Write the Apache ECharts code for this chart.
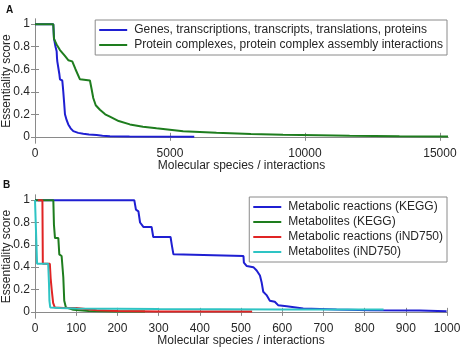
<!DOCTYPE html>
<html>
<head>
<meta charset="utf-8">
<script src="https://cdn.jsdelivr.net/npm/echarts@6/dist/echarts.min.js"></script>
<style>
html,body{margin:0;padding:0;background:#fff;}
#chart{width:461px;height:350px;}
</style>
</head>
<body>
<div id="chart"></div>
<script>
// ---- Panel A data ----
const genesSeriesName = 'Genes, transcriptions, transcripts, translations, proteins';
const complexSeriesName = 'Protein complexes, protein complex assembly interactions';
const genes = [[0,1],[678,1],[703,0.875],[760,0.80],[802,0.76],[815,0.70],[826,0.67],[860,0.66],[900,0.56],[925,0.51],[1011,0.5],[1030,0.45],[1048,0.4],[1080,0.3],[1110,0.2],[1170,0.15],[1233,0.11],[1320,0.075],[1418,0.05],[1600,0.035],[1788,0.027],[2000,0.02],[2282,0.015],[2500,0.01],[2775,0.005],[3500,0.002],[5900,0.0]];
const complexes = [[0,1],[678,1],[703,0.87],[800,0.82],[925,0.77],[1100,0.72],[1233,0.68],[1380,0.67],[1500,0.6],[1665,0.51],[2035,0.5],[2100,0.42],[2158,0.345],[2250,0.28],[2405,0.24],[2600,0.2],[2775,0.18],[3100,0.14],[3515,0.11],[4000,0.09],[4500,0.075],[5488,0.05],[6722,0.035],[8000,0.025],[9188,0.018],[10500,0.013],[11655,0.009],[13500,0.005],[15300,0.003]];
const xTicksA = [0,5000,10000,15000];

// ---- Panel B data ----
const keggReactionsName = 'Metabolic reactions (KEGG)';
const keggMetabolitesName = 'Metabolites (KEGG)';
const indReactionsName = 'Metabolic reactions (iND750)';
const indMetabolitesName = 'Metabolites (iND750)';
const keggReactions = [[0,1],[241,1],[245,0.915],[251,0.9],[255,0.80],[263,0.76],[283,0.76],[287,0.67],[329,0.67],[332,0.60],[336,0.515],[340,0.5],[506,0.5],[507,0.44],[514,0.41],[530,0.40],[538,0.37],[546,0.325],[550,0.266],[554,0.18],[562,0.15],[570,0.10],[582,0.09],[590,0.06],[611,0.05],[651,0.03],[732,0.02],[813,0.015],[934,0.013],[999,0.005]];
const keggMetabolites = [[0,1],[44.5,1],[46,0.78],[48.5,0.66],[56.6,0.66],[59,0.515],[64.6,0.5],[68.7,0.31],[71,0.10],[75,0.04],[93,0.018],[130,0.008],[200,0.004],[267,0.003]];
const indReactions = [[7,1],[18,1],[19,0.43],[36,0.43],[38,0.3],[40.5,0.2],[44,0.08],[48,0.04],[70,0.035],[100,0.035],[150,0.015],[200,0.008],[300,0.004],[527,0.003]];
const indMetabolites = [[0,1],[4,1],[5,0.43],[32,0.43],[34,0.25],[35,0.1],[37,0.04],[60,0.035],[100,0.03],[300,0.025],[600,0.022],[846,0.02]];
const xTicksB = [0,100,200,300,400,500,600,700,800,900,1000];
const yTicks = [0,0.2,0.4,0.6,0.8,1];

const C_BLUE = '#1f1fd2', C_GREEN = '#1e7d1e', C_RED = '#e02424', C_CYAN = '#2ec4c4';
const FRAME = '#8a8a8a';
const FONT = 'Liberation Sans, Arial, sans-serif';
const TXT = '#262626';

const chart = echarts.init(document.getElementById('chart'), null, {renderer:'canvas'});

function xAxes(gridIndex, max, ticks) {
  const line = {show:true, lineStyle:{color:FRAME, width:1}};
  return [
    {type:'value', gridIndex, min:0, max, position:'bottom',
     axisLine:line, splitLine:{show:false},
     axisTick:{show:true, inside:true, length:4, lineStyle:{color:FRAME}, customValues:ticks},
     axisLabel:{show:true, customValues:ticks, formatter:v=>String(v), color:TXT, fontFamily:FONT, fontSize:12, margin:5},
     name:'Molecular species / interactions', nameLocation:'middle', nameGap:17, nameMoveOverlap:false,
     nameTextStyle:{color:TXT, fontFamily:FONT, fontSize:12}},
    {type:'value', gridIndex, min:0, max, position:'top',
     axisLine:line, splitLine:{show:false},
     axisTick:{show:true, inside:true, length:4, lineStyle:{color:FRAME}, customValues:ticks},
     axisLabel:{show:false}}
  ];
}
function yAxes(gridIndex) {
  const line = {show:true, lineStyle:{color:FRAME, width:1}};
  return [
    {type:'value', gridIndex, min:-0.055, max:1.046, position:'left',
     axisLine:line, splitLine:{show:false},
     axisTick:{show:true, inside:true, length:4, lineStyle:{color:FRAME}, customValues:yTicks},
     axisLabel:{show:true, customValues:yTicks, formatter:v=>String(Math.round(v*10)/10), color:TXT, fontFamily:FONT, fontSize:12, margin:5},
     name:'Essentiality score', nameLocation:'middle', nameGap:22, nameMoveOverlap:false,
     nameTextStyle:{color:TXT, fontFamily:FONT, fontSize:12}},
    {type:'value', gridIndex, min:-0.055, max:1.046, position:'right',
     axisLine:line, splitLine:{show:false},
     axisTick:{show:true, inside:true, length:4, lineStyle:{color:FRAME}, customValues:yTicks},
     axisLabel:{show:false}}
  ];
}
function lineSeries(name, data, color, xi, yi) {
  return {type:'line', name, data, xAxisIndex:xi, yAxisIndex:yi, showSymbol:false, symbol:'none',
          lineStyle:{color, width:2}, itemStyle:{color}, animation:false, z:2};
}

const legendCommon = {
  orient:'vertical', right:14, icon:'rect', itemWidth:28, itemHeight:2, itemGap:3,
  backgroundColor:'#fff', borderColor:FRAME, borderWidth:1, borderRadius:0,
  padding:[4,4,4,4],
  textStyle:{color:TXT, fontFamily:FONT, fontSize:12, lineHeight:12, padding:[0,0,0,2]},
  selectedMode:false
};

chart.setOption({
  backgroundColor:'#fff',
  animation:false,
  title:[
    {text:'A', left:6, top:5, padding:0, textStyle:{fontFamily:FONT, fontSize:10, fontWeight:'bold', color:'#111'}},
    {text:'B', left:3, top:180, padding:0, textStyle:{fontFamily:FONT, fontSize:10, fontWeight:'bold', color:'#111'}}
  ],
  grid:[
    {left:35, top:19, width:413, height:124, outerBoundsMode:'none', containLabel:false},
    {left:35, top:195, width:412, height:123, outerBoundsMode:'none', containLabel:false}
  ],
  xAxis:[...xAxes(0, 15300, xTicksA), ...xAxes(1, 1000, xTicksB)],
  yAxis:[...yAxes(0), ...yAxes(1)],
  legend:[
    Object.assign({}, legendCommon, {top:20, data:[genesSeriesName, complexSeriesName]}),
    Object.assign({}, legendCommon, {top:197, data:[keggReactionsName, keggMetabolitesName, indReactionsName, indMetabolitesName]})
  ],
  series:[
    lineSeries(genesSeriesName, genes, C_BLUE, 0, 0),
    lineSeries(complexSeriesName, complexes, C_GREEN, 0, 0),
    lineSeries(keggReactionsName, keggReactions, C_BLUE, 2, 2),
    lineSeries(keggMetabolitesName, keggMetabolites, C_GREEN, 2, 2),
    lineSeries(indReactionsName, indReactions, C_RED, 2, 2),
    lineSeries(indMetabolitesName, indMetabolites, C_CYAN, 2, 2)
  ]
});
</script>
</body>
</html>
